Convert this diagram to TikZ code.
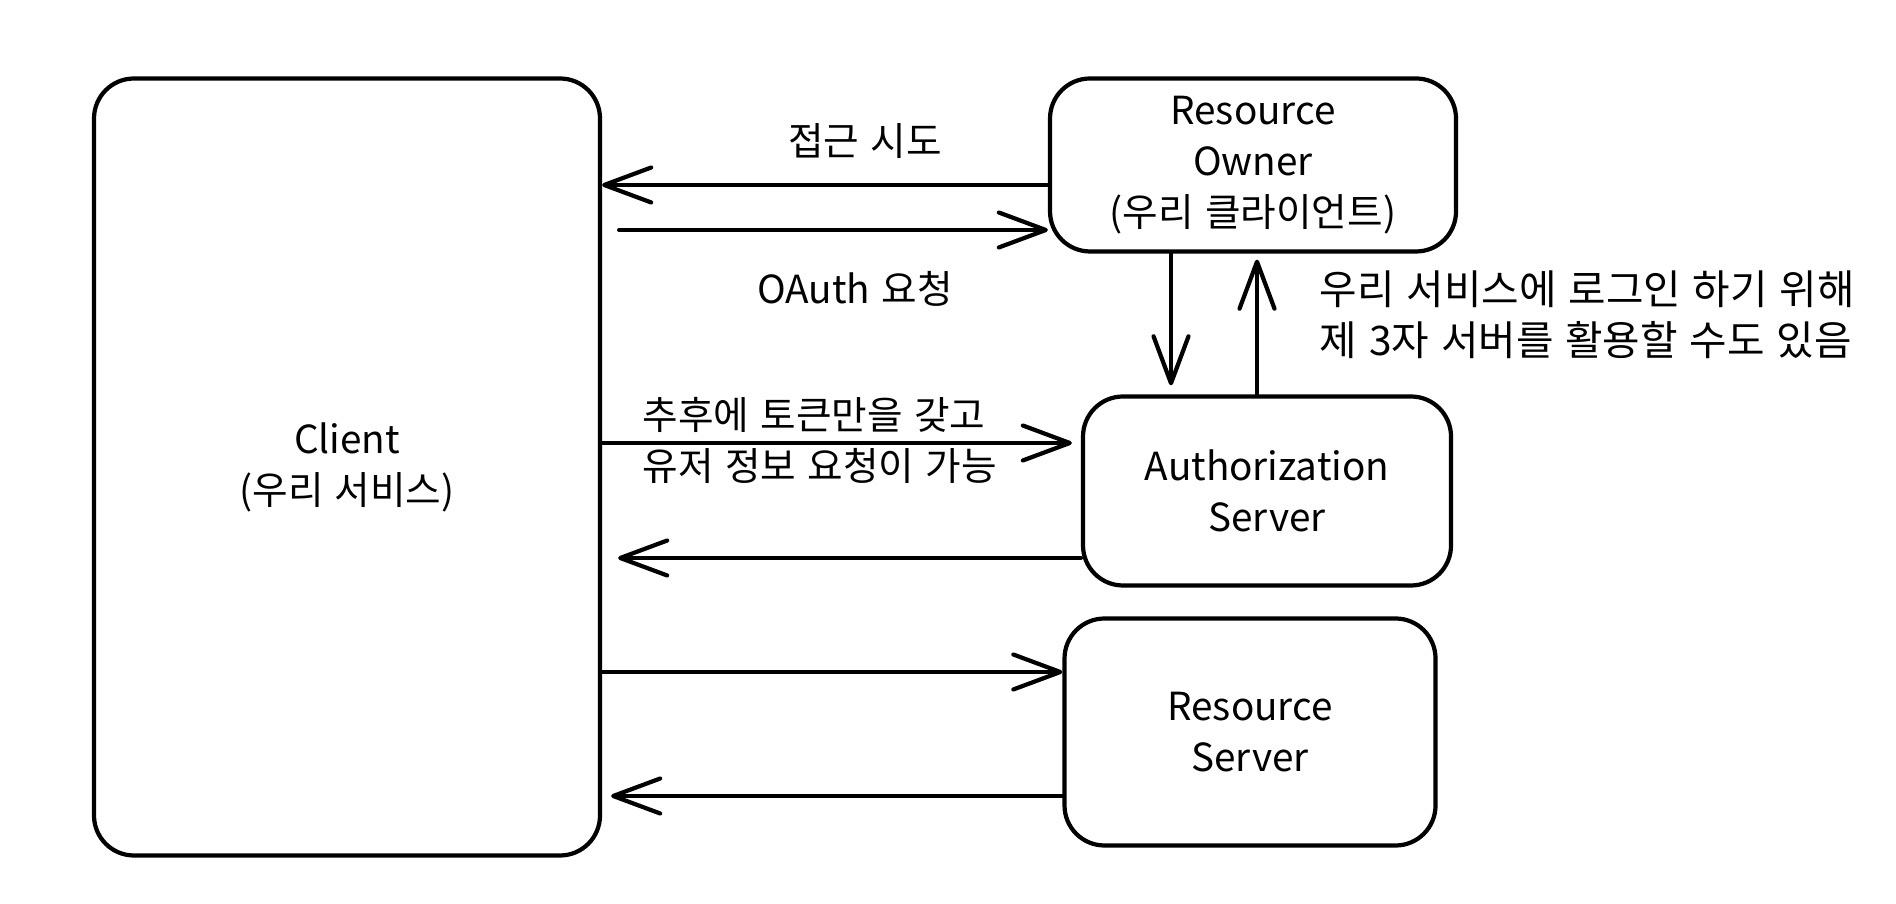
\documentclass[tikz,border=0pt]{standalone}
\usepackage{fontspec}
\setmainfont{Noto Sans CJK KR}[WordSpace=1.3]
\usetikzlibrary{positioning,arrows.meta}

\begin{document}
\begin{tikzpicture}[x=0.1mm,y=-0.1mm,line cap=round,line join=round,
    box/.style={draw,line width=1.2pt,rounded corners=4mm,align=center,inner sep=0pt,
      font=\fontsize{11}{14.5}\selectfont},
    note/.style={align=left,inner sep=0pt,font=\fontsize{11}{14.5}\selectfont},
    arr/.style={line width=1.2pt,-{Straight Barb[length=4.7mm,width=3.5mm,round]}}]
    \useasboundingbox (0,0) rectangle (1896,904);

    \node[box,minimum width=50.6mm,minimum height=77.7mm] (client) at (347,467) {Client\\(우리 서비스)};
    \node[box,minimum width=40.6mm,minimum height=17.3mm] (owner) at (1253,165) {Resource\\Owner\\(우리 클라이언트)};
    \node[box,minimum width=36.8mm,minimum height=18.9mm] (authz) at (1267,491) {Authorization\\Server};
    \node[box,minimum width=37.1mm,minimum height=22.7mm] (rserver) at (1250,732) {Resource\\Server};

    % labels
    \node[note] (try) at (865,141) {접근 시도};
    \node[note] (oauth) at (855,289) {OAuth 요청};
    \node[note,anchor=west] (token) at (642,440) {추후에 토큰만을 갖고\\유저 정보 요청이 가능};
    \node[note,anchor=west,font=\fontsize{11.6}{14.6}\selectfont] (third) at (1319,315) {우리 서비스에 로그인 하기 위해\\제 3자 서버를 활용할 수도 있음};

    % owner <-> client
    \draw[arr] (owner.west |- 0,185) -- (client.east |- 0,185);
    \draw[arr,shorten <=1.7mm] (client.east |- 0,230) -- (owner.west |- 0,230);
    % owner <-> authorization server
    \draw[arr,shorten >=0.9mm] (owner.south -| 1171,0) -- (authz.north -| 1171,0);
    \draw[arr,shorten >=0.6mm] (authz.north -| 1257,0) -- (owner.south -| 1257,0);
    % client <-> authorization server
    \draw[arr,shorten >=0.9mm] (client.east |- 0,443) -- (authz.west |- 0,443);
    \draw[arr,shorten >=1.6mm] (authz.west |- 0,558) -- (client.east |- 0,558);
    % client <-> resource server
    \draw[arr] (client.east |- 0,672) -- (rserver.west |- 0,672);
    \draw[arr,shorten >=0.9mm] (rserver.west |- 0,796) -- (client.east |- 0,796);
\end{tikzpicture}
\end{document}
